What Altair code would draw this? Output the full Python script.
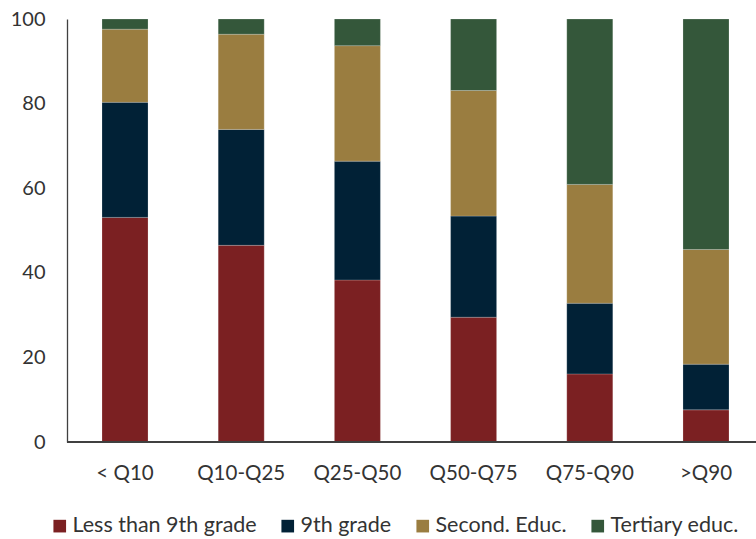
import altair as alt
import pandas as pd

categories = ["< Q10", "Q10-Q25", "Q25-Q50", "Q50-Q75", "Q75-Q90", ">Q90"]
series = ["Less than 9th grade", "9th grade", "Second. Educ.", "Tertiary educ."]
less_than_9th = [53.1, 46.5, 38.3, 29.5, 16.1, 7.6]
ninth_grade = [27.2, 27.4, 28.1, 23.9, 16.7, 10.8]
second_educ = [17.3, 22.5, 27.3, 29.7, 28.1, 27.1]
tertiary_educ = [2.4, 3.6, 6.3, 16.9, 39.1, 54.5]
colors = ["#7B2022", "#012136", "#9A7D40", "#34573A"]

rows = []
for si, (name, vals) in enumerate(zip(series, [less_than_9th, ninth_grade, second_educ, tertiary_educ])):
    for c, v in zip(categories, vals):
        rows.append({"cat": c, "series": name, "value": v, "order": si})
df = pd.DataFrame(rows)

font = "Lato"

bars = alt.Chart(df).mark_bar(stroke="#ffffff", strokeWidth=0.4, strokeOpacity=0.5).encode(
    x=alt.X("cat:N", sort=categories, title=None,
            scale=alt.Scale(range=[35, 662], paddingInner=0.604, paddingOuter=0),
            axis=alt.Axis(labelAngle=0, ticks=False, domain=False, labelPadding=21,
                          labelFontSize=20.5, labelFont=font, labelColor="#333333")),
    y=alt.Y("value:Q", stack="zero", title=None,
            scale=alt.Scale(domain=[0, 100], nice=False),
            axis=alt.Axis(values=[0, 20, 40, 60, 80, 100], ticks=False, grid=False,
                          labelPadding=22, labelFontSize=20, labelFont=font,
                          labelColor="#333333", domainColor="#404040", domainWidth=1.3)),
    color=alt.Color("series:N", scale=alt.Scale(domain=series, range=colors),
                    legend=alt.Legend(title=None, orient="none", legendX=-18, legendY=496,
                                      direction="horizontal", columns=4, symbolType="square",
                                      symbolSize=160, symbolStrokeWidth=0, labelFontSize=21.5,
                                      labelFont=font, labelColor="#333333", columnPadding=20,
                                      labelOffset=2, labelLimit=0)),
    order=alt.Order("order:Q", sort="ascending"),
)

baseline = alt.Chart(df).mark_rule(color="#404040", strokeWidth=1.3).encode(
    y=alt.datum(0)
)

chart = alt.layer(bars, baseline).properties(
    width=689, height=423,
    padding={"left": 67, "top": 19, "right": 0, "bottom": 97},
    autosize=alt.AutoSizeParams(type="none"),
).configure_view(stroke=None)

chart.save("out.html", embed_options={"renderer": "svg", "actions": False})
